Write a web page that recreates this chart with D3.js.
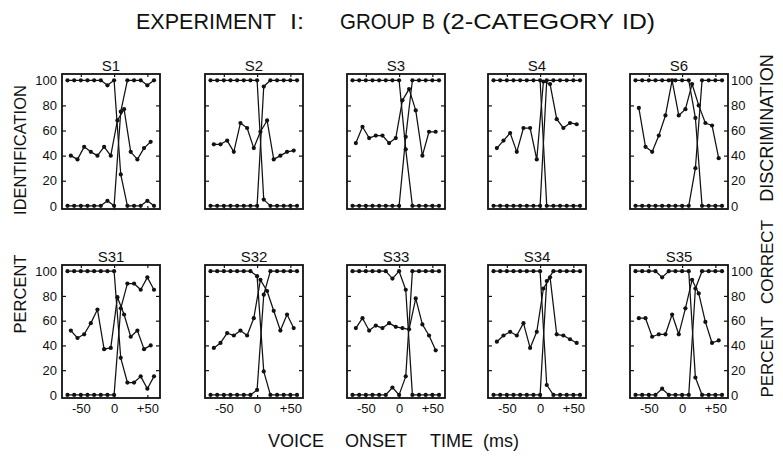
<!DOCTYPE html>
<html>
<head>
<meta charset="utf-8">
<script src="https://cdn.jsdelivr.net/npm/d3@7/dist/d3.min.js"></script>
<style>
  html, body { margin: 0; padding: 0; background: #fff; }
  svg { display: block; }
  text { font-family: "Liberation Sans", Arial, sans-serif; fill: #111; }
</style>
</head>
<body>
<svg id="chart" width="783" height="462"></svg>
<script>
// Subjects, in panel order (two rows of five)
const subjects = ["S1", "S2", "S3", "S4", "S6", "S31", "S32", "S33", "S34", "S35"];

// Voice onset time of each identification stimulus (ms)
const votSteps = [-70, -60, -50, -40, -30, -20, -10, 0, 10, 20, 30, 40, 50, 60];
// Discrimination pairs, plotted at the midpoint of adjacent stimuli (ms)
const discSteps = [-65, -55, -45, -35, -25, -15, -5, 5, 15, 25, 35, 45, 55];

// Percent identification: category starting at 100
const identFirst = [
  [100, 100, 100, 100, 100, 100, 96, 100, 25, 0, 0, 0, 4, 0],
  [100, 100, 100, 100, 100, 100, 100, 100, 5, 0, 0, 0, 0, 0],
  [100, 100, 100, 100, 100, 100, 100, 100, 45, 0, 0, 0, 0, 0],
  [100, 100, 100, 100, 100, 100, 100, 100, 0, 0, 0, 0, 0, 0],
  [100, 100, 100, 100, 100, 100, 100, 100, 100, 70, 0, 0, 0, 0],
  [100, 100, 100, 100, 100, 100, 100, 100, 30, 10, 10, 15, 5, 15],
  [100, 100, 100, 100, 100, 100, 100, 96, 19, 0, 0, 0, 0, 0],
  [100, 100, 100, 100, 100, 100, 94, 100, 85, 0, 0, 0, 0, 0],
  [100, 100, 100, 100, 100, 100, 100, 100, 8, 0, 0, 0, 0, 0],
  [100, 100, 100, 100, 95, 100, 100, 100, 100, 14, 0, 0, 0, 0]
];

// Percent identification: category starting at 0
const identSecond = [
  [0, 0, 0, 0, 0, 0, 4, 0, 75, 100, 100, 100, 96, 100],
  [0, 0, 0, 0, 0, 0, 0, 0, 95, 100, 100, 100, 100, 100],
  [0, 0, 0, 0, 0, 0, 0, 0, 55, 100, 100, 100, 100, 100],
  [0, 0, 0, 0, 0, 0, 0, 0, 100, 100, 100, 100, 100, 100],
  [0, 0, 0, 0, 0, 0, 0, 0, 0, 30, 100, 100, 100, 100],
  [0, 0, 0, 0, 0, 0, 0, 0, 70, 90, 90, 85, 95, 85],
  [0, 0, 0, 0, 0, 0, 0, 4, 81, 100, 100, 100, 100, 100],
  [0, 0, 0, 0, 0, 0, 6, 0, 15, 100, 100, 100, 100, 100],
  [0, 0, 0, 0, 0, 0, 0, 0, 92, 100, 100, 100, 100, 100],
  [0, 0, 0, 0, 5, 0, 0, 0, 0, 86, 100, 100, 100, 100]
];

// Percent correct discrimination
const discrim = [
  [40, 37, 47, 43, 40, 47, 40, 68, 77, 43, 37, 46, 51],
  [49, 49, 52, 43, 66, 62, 46, 59, 68, 37, 40, 43, 44],
  [50, 63, 54, 56, 56, 50, 54, 84, 93, 76, 40, 59, 59],
  [46, 52, 58, 43, 62, 62, 37, 99, 97, 69, 62, 66, 65],
  [78, 47, 43, 56, 72, 100, 72, 77, 97, 80, 66, 64, 38],
  [52, 46, 49, 58, 69, 37, 38, 79, 65, 47, 52, 37, 40],
  [38, 42, 50, 48, 52, 48, 62, 93, 84, 68, 52, 65, 54],
  [54, 62, 52, 56, 54, 58, 55, 54, 53, 78, 57, 48, 36],
  [43, 48, 51, 48, 58, 38, 51, 86, 95, 49, 48, 45, 42],
  [62, 62, 47, 49, 49, 65, 49, 70, 93, 82, 59, 42, 44]
];

// Axis ticks
const yTickLabels = [0, 20, 40, 60, 80, 100];
const xTickLabels = [-50, 0, 50];

// ---- layout ----
const svg = d3.select("#chart");
const colLeft = [62, 205, 347, 488, 630];
const rowTop = [74, 265];
const rowHeight = [135, 133];
const panelW = 98;
const voteDomain = [-78.3, 69];
const pctDomain = [-2.5, 105];

const ink = "#111";

// title, set word by word in a narrow lettering
[["EXPERIMENT", 136, 140], ["I:", 290, 14], ["GROUP", 340, 75], ["B", 422, 13],
 ["(2-CATEGORY", 442, 172], ["ID)", 622, 33]].forEach(([w, xPos, len]) => {
  svg.append("text")
    .attr("x", xPos).attr("y", 29)
    .attr("textLength", len).attr("lengthAdjust", "spacingAndGlyphs")
    .style("font-size", "22.5px")
    .text(w);
});

// axis titles
const vLabel = (txt, x, y, size) => svg.append("text")
  .attr("transform", `translate(${x},${y}) rotate(-90)`)
  .attr("text-anchor", "middle")
  .style("font-size", size + "px")
  .text(txt);
vLabel("IDENTIFICATION", 26, 150, 16.5);
vLabel("PERCENT", 26, 294, 16.5);
vLabel("DISCRIMINATION", 773, 128, 18);
vLabel("CORRECT", 773, 262, 17);
vLabel("PERCENT", 773, 357, 17);

const xTitle = svg.append("text")
  .attr("y", 447)
  .style("font-size", "18px");
[["VOICE", 268], ["ONSET", 345], ["TIME", 430], ["(ms)", 483]].forEach(([w, xPos]) => {
  xTitle.append("tspan").attr("x", xPos).text(w);
});

const fmtX = d => d > 0 ? "+" + d : String(d);

subjects.forEach((name, i) => {
  const row = Math.floor(i / 5), col = i % 5;
  const left = colLeft[col], top = rowTop[row], h = rowHeight[row];
  const x = d3.scaleLinear().domain(voteDomain).range([left, left + panelW]);
  const y = d3.scaleLinear().domain(pctDomain).range([top + h, top]);
  const g = svg.append("g");

  // panel frame
  g.append("rect")
    .attr("x", left).attr("y", top)
    .attr("width", panelW).attr("height", h)
    .attr("fill", "none").attr("stroke", ink).attr("stroke-width", 1.8);

  // inward ticks on all four sides
  const tickStyle = sel => {
    sel.select(".domain").remove();
    sel.selectAll(".tick line").attr("stroke", ink).attr("stroke-width", 1.2);
  };
  g.append("g").attr("transform", `translate(${left},0)`)
    .call(d3.axisRight(y).tickValues([20, 40, 60, 80]).tickSize(4).tickFormat(""))
    .call(tickStyle);
  g.append("g").attr("transform", `translate(${left + panelW},0)`)
    .call(d3.axisLeft(y).tickValues([20, 40, 60, 80]).tickSize(4).tickFormat(""))
    .call(tickStyle);
  g.append("g").attr("transform", `translate(0,${top})`)
    .call(d3.axisBottom(x).tickValues(xTickLabels).tickSize(3).tickFormat(""))
    .call(tickStyle);
  g.append("g").attr("transform", `translate(0,${top + h})`)
    .call(d3.axisTop(x).tickValues(xTickLabels).tickSize(3).tickFormat(""))
    .call(tickStyle);

  // tick labels on outer panels
  const labelStyle = sel => {
    sel.select(".domain").remove();
    sel.selectAll(".tick line").remove();
    sel.selectAll("text").style("font-size", "13px").style("font-family", "'Liberation Sans', Arial, sans-serif").attr("fill", ink);
  };
  if (col === 0) {
    g.append("g").attr("transform", `translate(${left},0)`)
      .call(d3.axisLeft(y).tickValues(yTickLabels).tickSize(0).tickPadding(5))
      .call(labelStyle);
  }
  if (col === 4) {
    g.append("g").attr("transform", `translate(${left + panelW},0)`)
      .call(d3.axisRight(y).tickValues(yTickLabels).tickSize(0).tickPadding(3))
      .call(labelStyle);
  }
  if (row === 1) {
    g.append("g").attr("transform", `translate(0,${top + h})`)
      .call(d3.axisBottom(x).tickValues(xTickLabels).tickSize(0).tickPadding(6).tickFormat(fmtX))
      .call(labelStyle);
  }

  // panel name
  g.append("text")
    .attr("x", left + panelW / 2).attr("y", top - 3)
    .attr("text-anchor", "middle")
    .style("font-size", "15px")
    .text(name);

  const line = d3.line().x(d => x(d[0])).y(d => y(d[1]));
  const series = [
    votSteps.map((v, k) => [v, identFirst[i][k]]),
    votSteps.map((v, k) => [v, identSecond[i][k]]),
    discSteps.map((v, k) => [v, discrim[i][k]])
  ];
  series.forEach(pts => {
    g.append("path").attr("d", line(pts))
      .attr("fill", "none").attr("stroke", ink).attr("stroke-width", 1.25)
      .attr("stroke-linejoin", "round");
    g.selectAll(null).data(pts).join("circle")
      .attr("cx", d => x(d[0])).attr("cy", d => y(d[1]))
      .attr("r", 2.1).attr("fill", ink);
  });
});
</script>
</body>
</html>
